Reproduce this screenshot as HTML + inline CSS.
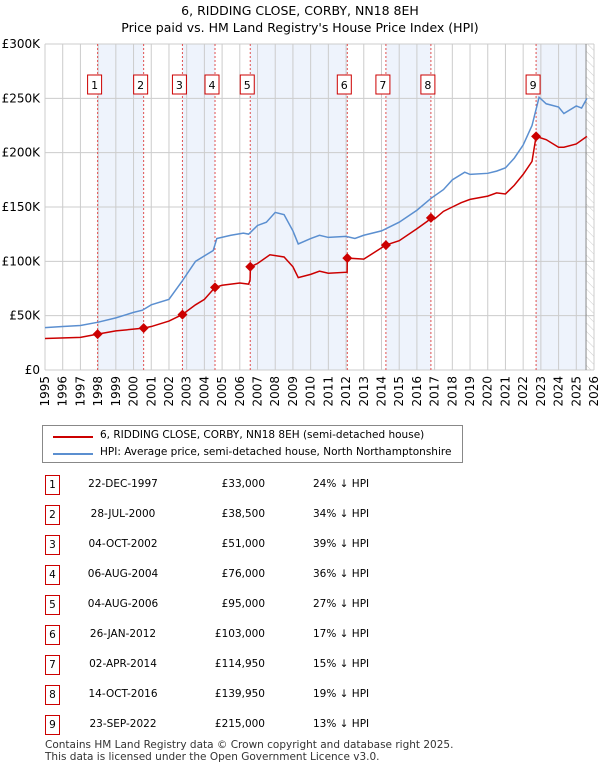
<!DOCTYPE html>
<html><head><meta charset="utf-8">
<style>
body{margin:0;background:#fff;font-family:"DejaVu Sans","Liberation Sans",sans-serif;}
#wrap{position:relative;width:600px;height:770px;overflow:hidden;}
.t{position:absolute;font-size:10.5px;color:#000;white-space:nowrap;}
</style></head>
<body>
<div id="wrap">
<div class="t" style="left:0;width:600px;text-align:center;top:3px;font-size:12.5px">6, RIDDING CLOSE, CORBY, NN18 8EH</div>
<div class="t" style="left:0;width:600px;text-align:center;top:20px;font-size:12.5px">Price paid vs. HM Land Registry's House Price Index (HPI)</div>
<svg id="chart" width="600" height="420" style="position:absolute;left:0;top:0"></svg>
<div style="position:absolute;left:42px;top:425px;width:419px;height:36px;border:1px solid #888">
 <div style="position:absolute;left:10px;top:10px;width:40px;height:2px;background:#cc0000"></div>
 <div class="t" style="left:57px;top:3px">6, RIDDING CLOSE, CORBY, NN18 8EH (semi-detached house)</div>
 <div style="position:absolute;left:10px;top:27px;width:40px;height:2px;background:#5b8fd0"></div>
 <div class="t" style="left:57px;top:20px">HPI: Average price, semi-detached house, North Northamptonshire</div>
</div>
<div id="table"></div>
<div class="t" style="left:45px;top:739px;color:#333">Contains HM Land Registry data © Crown copyright and database right 2025.</div>
<div class="t" style="left:45px;top:751px;color:#333">This data is licensed under the Open Government Licence v3.0.</div>
</div>
<script>
const hpiYears=[1995,1996,1997,1998,1999,2000,2000.5,2001,2002,2002.75,2003.5,2004.5,2004.7,2005.5,2006.2,2006.5,2007,2007.5,2008,2008.5,2009,2009.3,2010,2010.5,2011,2012,2012.5,2013,2014,2014.5,2015,2016,2016.8,2017.5,2018,2018.7,2019,2020,2020.5,2021,2021.5,2022,2022.5,2022.9,2023.3,2024,2024.3,2025,2025.3,2025.6];
const hpiValues=[39,40,41,44,48,53,55,60,65,82,100,110,121,124,126,125,133,136,145,143,128,116,121,124,122,123,121,124,128,132,136,147,158,166,175,182,180,181,183,186,195,207,225,251,245,242,236,243,241,250];
const priceYears=[1995,1997,1997.97,1999,2000.57,2001,2002,2002.75,2003.5,2004,2004.6,2005,2006,2006.5,2006.58,2006.6,2007,2007.7,2008.5,2009,2009.3,2010,2010.5,2011,2012.06,2012.07,2013,2014.25,2015,2016,2016.6,2016.79,2017,2017.5,2018,2018.5,2019,2020,2020.5,2021,2021.5,2022,2022.5,2022.73,2023.3,2024,2024.3,2025,2025.6];
const priceValues=[29,30,33,36,38.5,40,45,51,60,65,76,78,80,79,83,95,98,106,104,95,85,88,91,89,90,103,102,115,119,130,137,140,139,146,150,154,157,160,163,162,170,180,192,215,212,205,205,208,215];
const saleLabels=["1","2","3","4","5","6","7","8","9"];
const saleYears=[1997.97,2000.57,2002.76,2004.6,2006.59,2012.07,2014.25,2016.79,2022.73];
const saleValues=[33,38.5,51,76,95,103,114.95,139.95,215];
const saleDates=["22-DEC-1997","28-JUL-2000","04-OCT-2002","06-AUG-2004","04-AUG-2006","26-JAN-2012","02-APR-2014","14-OCT-2016","23-SEP-2022"];
const salePrices=["£33,000","£38,500","£51,000","£76,000","£95,000","£103,000","£114,950","£139,950","£215,000"];
const salePcts=["24% ↓ HPI","34% ↓ HPI","39% ↓ HPI","36% ↓ HPI","27% ↓ HPI","17% ↓ HPI","15% ↓ HPI","19% ↓ HPI","13% ↓ HPI"];
const yTicks=[0,50,100,150,200,250,300];
const yTickLabels=["£0","£50K","£100K","£150K","£200K","£250K","£300K"];
const xTicks=[1995,1996,1997,1998,1999,2000,2001,2002,2003,2004,2005,2006,2007,2008,2009,2010,2011,2012,2013,2014,2015,2016,2017,2018,2019,2020,2021,2022,2023,2024,2025,2026];

const L=45,R=594,T=44,B=370;
const x=y=>L+(y-1995)/(2026-1995)*(R-L);
const yv=v=>B-v/300*(B-T);
const NS="http://www.w3.org/2000/svg";
const svg=document.getElementById('chart');
function mk(tag,attrs,parent){const e=document.createElementNS(NS,tag);for(const k in attrs)e.setAttribute(k,attrs[k]);(parent||svg).appendChild(e);return e;}
const bandEdges=saleYears.concat([2025.55]);
for(let i=0;i<bandEdges.length-1;i+=2){
 const r=mk('rect',{x:x(bandEdges[i]),y:T,width:x(bandEdges[i+1])-x(bandEdges[i]),height:B-T,fill:'#eef3fc'});
 
 
}
const defs=mk('defs',{});
const pat=mk('pattern',{id:'hatch',width:6,height:6,patternUnits:'userSpaceOnUse',patternTransform:'rotate(-45)'},defs);
mk('line',{x1:0,y1:0,x2:0,y2:6,stroke:'#ccc','stroke-width':1},pat);
const hz=mk('rect',{x:x(2025.55),y:T,width:R-x(2025.55),height:B-T,fill:'url(#hatch)'});


xTicks.forEach(t=>{const l=mk('line',{x1:x(t),x2:x(t),y1:T,y2:B,stroke:'#ccc','stroke-width':1});
 
 
 const tx=mk('text',{x:0,y:0,transform:`translate(${x(t)+4},${B+6}) rotate(-90)`,'text-anchor':'end','font-size':12,'font-family':'DejaVu Sans, sans-serif'});tx.textContent=t;
 
 
});
yTicks.forEach((t,i)=>{const l=mk('line',{x1:L,x2:R,y1:yv(t),y2:yv(t),stroke:'#ccc','stroke-width':1});
 
 
 const tx=mk('text',{x:40,y:yv(t)+4,'text-anchor':'end','font-size':12,'font-family':'DejaVu Sans, sans-serif'});tx.textContent=yTickLabels[i];
 
 
});
const vl=mk('line',{x1:x(2025.55),x2:x(2025.55),y1:T,y2:B,stroke:'#888','stroke-width':1});


saleYears.forEach((s,i)=>{
 const l=mk('line',{x1:x(s),x2:x(s),y1:T,y2:B,stroke:'#e05050','stroke-width':1,'stroke-dasharray':'2,2'});
 
 
 const bx=mk('rect',{x:x(s)-10,y:75,width:14,height:19,fill:'#fff',stroke:'#cc0000','stroke-width':1});
 
 
 const tx=mk('text',{x:x(s)-3,y:89,'text-anchor':'middle','font-size':11,'font-family':'DejaVu Sans, sans-serif'});tx.textContent=saleLabels[i];
 
 
});
const hp=mk('polyline',{points:hpiYears.map((y,i)=>x(y)+','+yv(hpiValues[i])).join(' '),fill:'none',stroke:'#5b8fd0','stroke-width':1.5});


const pp=mk('polyline',{points:priceYears.map((y,i)=>x(y)+','+yv(priceValues[i])).join(' '),fill:'none',stroke:'#cc0000','stroke-width':1.5});


saleYears.forEach((s,i)=>{
 const d=mk('path',{d:`M${x(s)},${yv(saleValues[i])-5} l5,5 l-5,5 l-5,-5z`,fill:'#cc0000'});
 
 
});
const tb=document.getElementById('table');
saleLabels.forEach((lab,i)=>{
 const top=475+i*30;
 const row=document.createElement('div');
 
 
 row.innerHTML=`<div class="t" style="left:45px;top:${top}px;width:13px;height:18px;border:1px solid #cc0000;text-align:center;line-height:18px">${lab}</div>
 <div class="t" style="left:70px;width:106px;text-align:center;top:${top+3}px">${saleDates[i]}</div>
 <div class="t" style="left:180px;width:85px;text-align:right;top:${top+3}px">${salePrices[i]}</div>
 <div class="t" style="left:313px;top:${top+3}px">${salePcts[i]}</div>`;
 tb.appendChild(row);
});
</script>
</body></html>
